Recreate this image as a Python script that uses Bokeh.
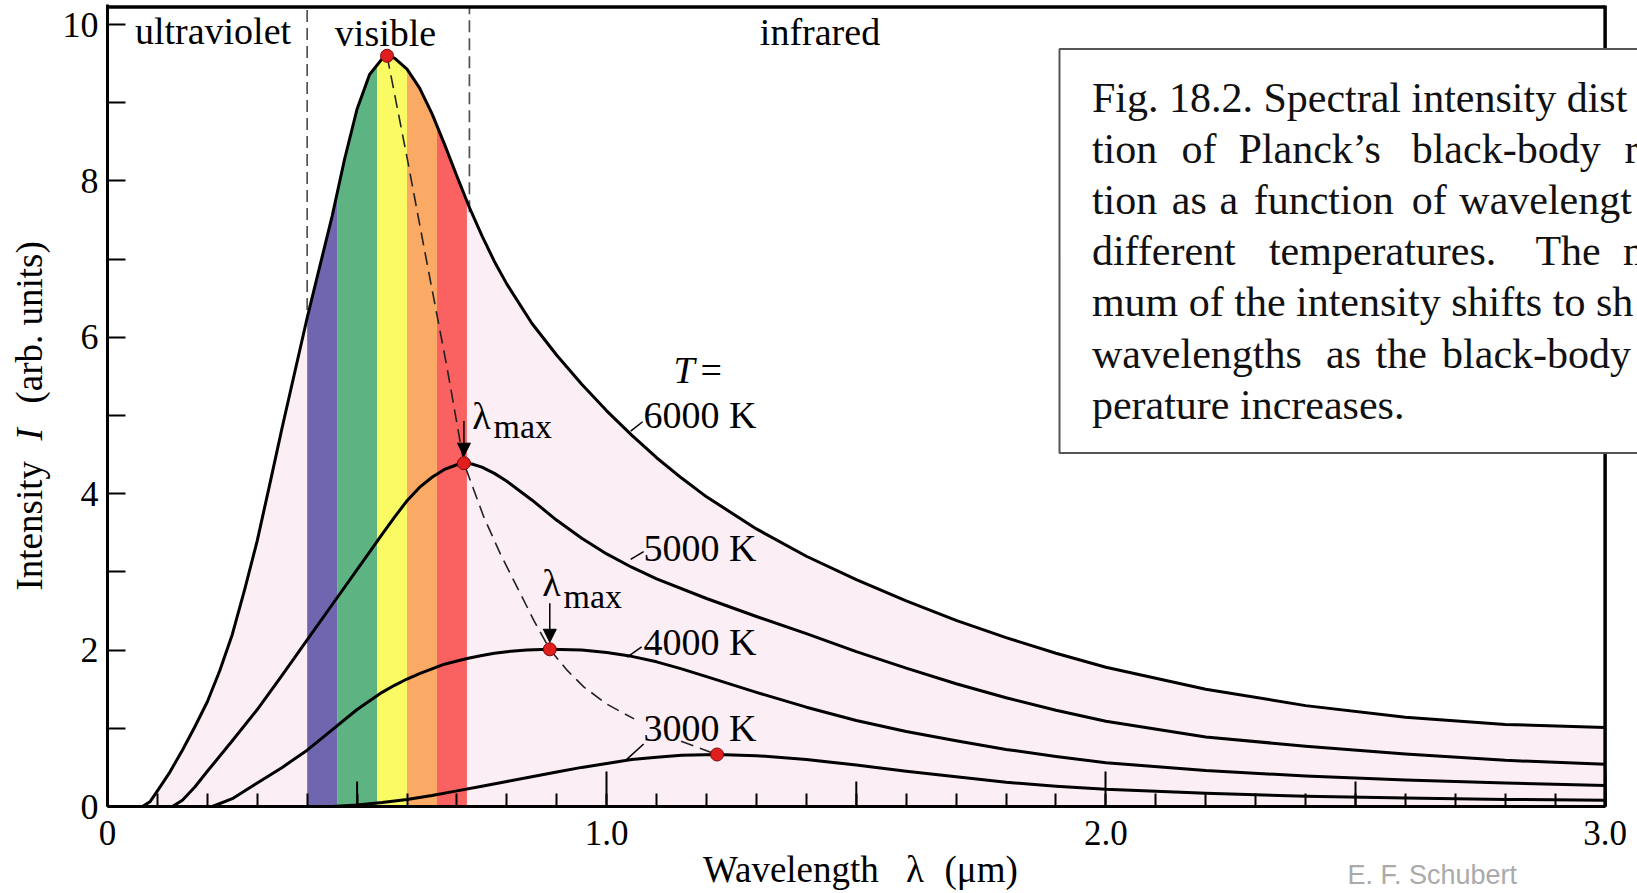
from bokeh.plotting import figure
from bokeh.models import Range1d, FixedTicker, Label, Arrow, NormalHead
from bokeh.core.properties import value
from bokeh.embed import file_html
from bokeh.resources import INLINE

# ---------------- data ----------------
wl_6000 = [0.07, 0.085, 0.10, 0.125, 0.15, 0.175, 0.20, 0.225, 0.25, 0.275, 0.30, 0.325, 0.35, 0.375,
           0.40, 0.425, 0.45, 0.475, 0.50, 0.525, 0.55, 0.56, 0.575, 0.60, 0.625, 0.65, 0.675, 0.70,
           0.725, 0.75, 0.775, 0.80, 0.85, 0.90, 0.95, 1.0, 1.05, 1.1, 1.15, 1.2, 1.3, 1.4, 1.5, 1.6,
           1.7, 1.8, 1.9, 2.0, 2.2, 2.4, 2.6, 2.8, 3.0]
int_6000 = [0.0, 0.06, 0.2, 0.44, 0.72, 1.02, 1.34, 1.74, 2.2, 2.78, 3.4, 4.12, 4.85, 5.55,
            6.25, 6.9, 7.55, 8.28, 8.92, 9.36, 9.56, 9.6, 9.57, 9.43, 9.19, 8.86, 8.47, 8.06,
            7.66, 7.3, 6.97, 6.68, 6.18, 5.77, 5.4, 5.06, 4.75, 4.46, 4.2, 3.96, 3.55, 3.2, 2.9, 2.63,
            2.38, 2.16, 1.96, 1.78, 1.5, 1.29, 1.14, 1.05, 1.01]

wl_5000 = [0.13, 0.15, 0.175, 0.20, 0.25, 0.30, 0.35, 0.40, 0.45, 0.50, 0.55, 0.575, 0.60, 0.625,
           0.65, 0.675, 0.70, 0.714, 0.73, 0.75, 0.775, 0.80, 0.85, 0.90, 0.95, 1.0, 1.05, 1.1, 1.2,
           1.3, 1.4, 1.5, 1.6, 1.7, 1.8, 1.9, 2.0, 2.2, 2.4, 2.6, 2.8, 3.0]
int_5000 = [0.0, 0.08, 0.25, 0.45, 0.84, 1.24, 1.68, 2.13, 2.58, 3.03, 3.48, 3.7, 3.91, 4.08,
            4.21, 4.31, 4.37, 4.39, 4.38, 4.34, 4.26, 4.16, 3.92, 3.66, 3.43, 3.23, 3.06, 2.91, 2.66,
            2.43, 2.21, 1.98, 1.77, 1.57, 1.39, 1.23, 1.09, 0.89, 0.77, 0.67, 0.59, 0.54]

wl_4000 = [0.21, 0.25, 0.30, 0.35, 0.40, 0.45, 0.50, 0.55, 0.575, 0.60, 0.625, 0.65, 0.675, 0.70,
           0.725, 0.75, 0.775, 0.80, 0.84, 0.886, 0.95, 1.0, 1.05, 1.1, 1.15, 1.2, 1.3, 1.4, 1.5,
           1.6, 1.7, 1.8, 1.9, 2.0, 2.2, 2.4, 2.6, 2.8, 3.0]
int_4000 = [0.0, 0.1, 0.3, 0.5, 0.72, 0.98, 1.24, 1.46, 1.55, 1.63, 1.70, 1.76, 1.82, 1.86,
            1.90, 1.93, 1.96, 1.98, 2.0, 2.01, 2.0, 1.97, 1.92, 1.85, 1.76, 1.66, 1.46, 1.27, 1.1,
            0.96, 0.84, 0.73, 0.64, 0.56, 0.46, 0.39, 0.34, 0.30, 0.27]

wl_3000 = [0.45, 0.50, 0.55, 0.60, 0.65, 0.70, 0.75, 0.80, 0.85, 0.90, 0.95, 1.0, 1.05, 1.1, 1.15,
           1.221, 1.3, 1.4, 1.5, 1.6, 1.7, 1.8, 1.9, 2.0, 2.2, 2.4, 2.6, 2.8, 3.0]
int_3000 = [0.0, 0.02, 0.05, 0.09, 0.14, 0.2, 0.26, 0.32, 0.38, 0.44, 0.5, 0.55, 0.6, 0.63, 0.655,
            0.665, 0.65, 0.6, 0.53, 0.45, 0.38, 0.31, 0.26, 0.22, 0.17, 0.13, 0.11, 0.09, 0.08]

peak_wl = [0.56, 0.714, 0.886, 1.221]
peak_int = [9.6, 4.39, 2.01, 0.665]

# locus of maxima (dashed), interrupted by the "3000 K" label
locus_wl_a = [0.56, 0.60, 0.64, 0.68, 0.714, 0.754, 0.787, 0.821, 0.854, 0.886, 0.921, 0.954, 1.0, 1.055]
locus_int_a = [9.6, 8.3, 6.95, 5.62, 4.39, 3.70, 3.23, 2.80, 2.38, 2.01, 1.74, 1.53, 1.31, 1.12]
locus_wl_b = [1.149, 1.221]
locus_int_b = [0.835, 0.665]

band_edges = [0.40, 0.46, 0.54, 0.60, 0.66, 0.72]
band_colors = ["#7066b0", "#5eb382", "#fafa64", "#faaa64", "#fa6262"]

region_bounds = [0.40, 0.725]
region_bound_ends = [6.35, 7.6]
region_names = ["ultraviolet", "visible", "infrared"]

temp_labels = ["6000 K", "5000 K", "4000 K", "3000 K"]

x_ticks = [0, 1, 2, 3]
x_tick_labels = ["0", "1.0", "2.0", "3.0"]
x_minor = [k / 10 for k in range(31)]
x_half = [0.5, 1.5, 2.5]
y_ticks = [0, 2, 4, 6, 8, 10]
y_minor = [1, 3, 5, 7, 9]

x_title = ["Wavelength", "\u03bb", "(\u03bcm)"]
y_title = ["Intensity", "I", "(arb. units)"]
credit = "E. F. Schubert"

caption_words = [
    ["Fig. 18.2. Spectral intensity dist"],
    ["tion", "of", "Planck\u2019s", "black-body", "r"],
    ["tion", "as", "a", "function", "of", "wavelengt"],
    ["different", "temperatures.", "The", "m"],
    ["mum of the intensity shifts to sh"],
    ["wavelengths", "as", "the", "black-body"],
    ["perature increases."],
]

# ---------------- layout / style ----------------
SERIF = "Liberation Serif"
W, H = 1637, 893
X0, Y0, PXU, PYU = 107, 806, 499.2, 78.2      # page position of the origin and px per unit


def ux(px):
    return (px - X0) / PXU


def vy(py):
    return (Y0 - py) / PYU


def mid(baseline_py, size):
    # vertical centre of a text line whose baseline is at page y = baseline_py
    return vy(baseline_py - 0.3375 * size)


XMIN, XMAX = ux(0), ux(W)
YMIN, YMAX = vy(H), vy(0)
PINK = "#fceef5"

p = figure(width=W, height=H, output_backend="svg", toolbar_location=None,
           x_range=Range1d(XMIN, XMAX), y_range=Range1d(YMIN, YMAX),
           min_border_left=0, min_border_right=0, min_border_top=0, min_border_bottom=0)
p.grid.visible = False
p.outline_line_color = None
p.background_fill_color = "white"
p.border_fill_color = "white"

# axes (kept at the data origin)
xa = p.xaxis[0]
xa.fixed_location = 0
xa.ticker = FixedTicker(ticks=x_ticks, minor_ticks=x_minor)
xa.major_label_overrides = {t: l for t, l in zip(x_ticks, x_tick_labels)}
xa.bounds = (0, 3)
ya = p.yaxis[0]
ya.fixed_location = 0
ya.ticker = FixedTicker(ticks=y_ticks, minor_ticks=y_minor)
ya.major_label_overrides = {t: str(t) for t in y_ticks}
ya.bounds = (0, vy(4))
for ax, tin, minin, fs in ((xa, 35, 13, "35px"), (ya, 18, 18, "36px")):
    ax.axis_line_width = 3
    ax.axis_line_color = "black"
    ax.major_tick_in = tin
    ax.major_tick_out = 0
    ax.minor_tick_in = minin
    ax.minor_tick_out = 0
    ax.major_tick_line_width = 2
    ax.minor_tick_line_width = 2
    ax.major_tick_line_color = "black"
    ax.minor_tick_line_color = "black"
    ax.major_label_text_font = SERIF
    ax.major_label_text_font_size = fs
    ax.major_label_text_color = "black"
xa.major_label_standoff = 14
ya.major_label_standoff = 9

# filled area under the hottest curve, spectrum bands, white mask above the curve
p.varea(x=wl_6000, y1=0, y2=int_6000, fill_color=PINK)
p.quad(left=band_edges[:-1], right=band_edges[1:], bottom=0, top=vy(6),
       fill_color=band_colors, line_color=None)
p.varea(x=wl_6000, y1=int_6000, y2=vy(5), fill_color="white")

# half-unit ticks on the x axis (medium length)
p.segment(x0=x_half, y0=0, x1=x_half, y1=25 / PYU, line_color="black", line_width=2)

# region boundaries
p.segment(x0=region_bounds, y0=region_bound_ends, x1=region_bounds, y1=vy(6),
          line_color="#505050", line_width=1.7, line_dash="12 6")

# top and right frame borders
p.segment(x0=[0, 3.0], y0=[vy(6.5), 0], x1=[3.0, 3.0], y1=[vy(6.5), vy(5)],
          line_color="black", line_width=3.5)

# curves
for wl, it in ((wl_6000, int_6000), (wl_5000, int_5000), (wl_4000, int_4000), (wl_3000, int_3000)):
    p.line(wl, it, line_color="black", line_width=3, line_join="round")

# locus of maxima
p.line(locus_wl_a, locus_int_a, line_color="#222222", line_width=1.6, line_dash="13 7")
p.line(locus_wl_b, locus_int_b, line_color="#222222", line_width=1.6, line_dash="13 7")

# label leaders
p.segment(x0=[1.048, 1.048, 1.041, 1.038], y0=[4.80, 3.16, 1.91, 0.59],
          x1=[1.072, 1.074, 1.070, 1.074], y1=[4.92, 3.26, 2.04, 0.80],
          line_color="black", line_width=1.5)

# peak dots
p.scatter(peak_wl, peak_int, size=13, fill_color="#e01e1e", line_color="#7a0a0a", line_width=1)

# caption box (extends past the right edge, clipped)
p.quad(left=ux(1059), right=XMAX + 0.3, top=vy(48.5), bottom=vy(452.5), fill_color="white",
       line_color="#555555", line_width=2)


def lab(x, y, text, size=38, style="normal", align="left", color="black", font=SERIF, angle=0.0):
    p.add_layout(Label(x=x, y=y, text=text, text_font=font, text_font_size=f"{size}px",
                       text_font_style=style, text_align=align, text_baseline="middle",
                       text_color=color, angle=angle))


# region names
for name, px, base in zip(region_names, [212.5, 385, 819.5], [43, 45, 44]):
    lab(ux(px), mid(base, 38), name, align="center")

# temperature labels
lab(ux(673), mid(382, 38), "T", style="italic")
lab(ux(700), mid(382, 38), "=")
for t, base in zip(temp_labels, [427.5, 560.5, 654, 740]):
    lab(ux(643), mid(base, 38), t)

# lambda max labels and arrows
for (lpx, lbase, mpx, mbase, ax_, a0, a1) in ((471.7, 428, 493, 437, 0.714, 4.93, 4.48),
                                              (541.7, 595, 563, 607, 0.886, 2.60, 2.10)):
    lab(ux(lpx), mid(lbase, 38), "\u03bb")
    lab(ux(mpx), mid(mbase, 34), "max", size=34)
    p.add_layout(Arrow(end=NormalHead(size=13, fill_color="black", line_color="black", line_width=1),
                       x_start=ax_, y_start=a0, x_end=ax_, y_end=a1,
                       line_color="black", line_width=1.5))

# caption text (justified lines: words placed individually)
cap_px = [
    [1091.4],
    [1091.4, 1180.9, 1238.0, 1411.2, 1624.0],
    [1091.4, 1171.3, 1218.9, 1253.2, 1411.2, 1458.8],
    [1091.4, 1268.4, 1534.9, 1622.5],
    [1091.4],
    [1091.4, 1325.5, 1375.0, 1441.6],
    [1091.4],
]
cap_base0, cap_step = 111.7, 51.1
for i, (words, pxs) in enumerate(zip(caption_words, cap_px)):
    yv = mid(cap_base0 + i * cap_step, 42)
    p.text(x=[ux(q) for q in pxs], y=[yv] * len(pxs), text=words,
           text_font=value(SERIF), text_font_size=value("42px"), text_color="#111111",
           text_baseline="middle", text_align="left")

# axis titles
xt_y = mid(881.7, 37)
for word, px in zip(x_title, [702.5, 905.6, 944.0]):
    lab(ux(px), xt_y, word, size=37)
yt_x = ux(29)
for word, py, style in zip(y_title, [590, 440, 403], ["normal", "italic", "normal"]):
    lab(yt_x, vy(py), word, size=37, style=style, angle=1.5708)

# credit line at the bottom
lab(ux(1347), mid(884, 27), credit, size=27, color="#aaaaaa", font="Liberation Sans")

open("out.html", "w").write(file_html(p, INLINE))
